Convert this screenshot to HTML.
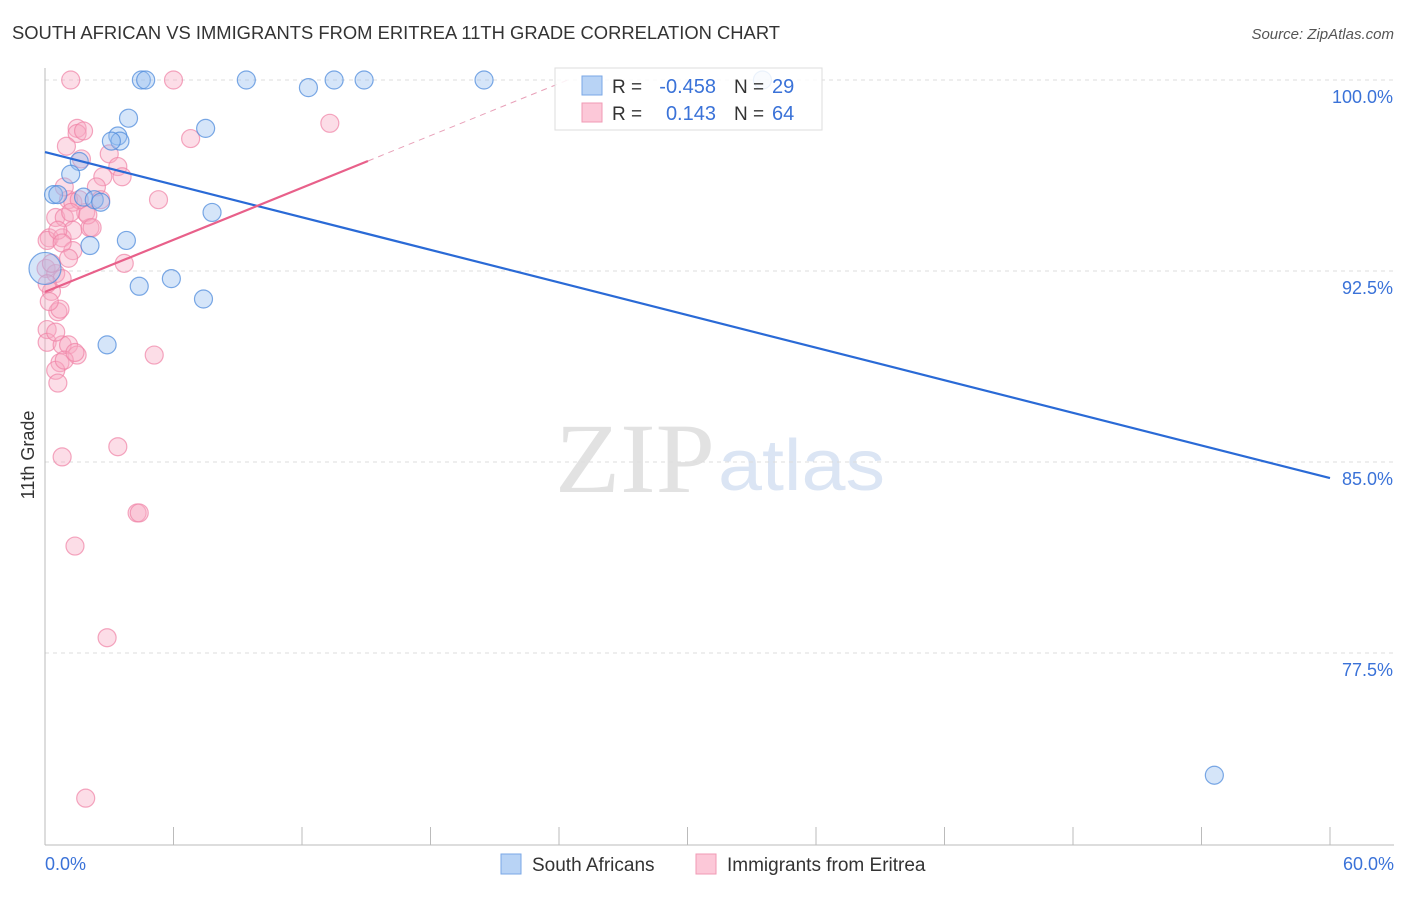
<!DOCTYPE html>
<html><head><meta charset="utf-8"><style>
body{margin:0;background:#fff;font-family:"Liberation Sans",sans-serif;}
</style></head><body>
<svg id="chart" width="1406" height="892" xmlns="http://www.w3.org/2000/svg">
<text x="12" y="39" font-size="18" fill="#333" textLength="768" lengthAdjust="spacingAndGlyphs">SOUTH AFRICAN VS IMMIGRANTS FROM ERITREA 11TH GRADE CORRELATION CHART</text>
<text x="1394" y="39" font-size="15" fill="#555" font-style="italic" text-anchor="end">Source: ZipAtlas.com</text>
<text x="555" y="492" font-size="100" fill="#e2e2e2" textLength="160" lengthAdjust="spacingAndGlyphs" font-family="Liberation Serif,serif">ZIP</text>
<text x="718" y="490" font-size="72" fill="#dbe5f4" textLength="167" lengthAdjust="spacingAndGlyphs">atlas</text>
<text transform="translate(34,455) rotate(-90)" font-size="18" fill="#333" text-anchor="middle">11th Grade</text>
<g id="grid"></g><g id="marks"></g>
<g>
<rect x="555" y="68" width="267" height="62" fill="#fff" fill-opacity="0.85" stroke="#ddd"/>
<rect x="582" y="76" width="20" height="19" fill="#b8d3f5" stroke="#7aa7e6"/>
<rect x="582" y="103" width="20" height="19" fill="#fcc8d8" stroke="#f09ab4"/>
<text x="612" y="93" font-size="19" fill="#333">R =</text>
<text x="716" y="93" font-size="20" fill="#3a72d8" text-anchor="end">-0.458</text>
<text x="734" y="93" font-size="19" fill="#333">N =</text>
<text x="772" y="93" font-size="20" fill="#3a72d8">29</text>
<text x="612" y="120" font-size="19" fill="#333">R =</text>
<text x="716" y="120" font-size="20" fill="#3a72d8" text-anchor="end">0.143</text>
<text x="734" y="120" font-size="19" fill="#333">N =</text>
<text x="772" y="120" font-size="20" fill="#3a72d8">64</text>
</g>
<g>
<rect x="501" y="854" width="20" height="20" fill="#b8d3f5" stroke="#7aa7e6"/>
<text x="532" y="871" font-size="19" fill="#333">South Africans</text>
<rect x="696" y="854" width="20" height="20" fill="#fcc8d8" stroke="#f09ab4"/>
<text x="727" y="871" font-size="19" fill="#333">Immigrants from Eritrea</text>
</g>
</svg>
<script>
const yTicks=[100,92.5,85,77.5];
const yTickLabels=["100.0%","92.5%","85.0%","77.5%"];
const xTickLabels=["0.0%","60.0%"];
const blueX=[4.5,4.7,9.4,12.3,13.5,14.9,20.5,33.5,3.9,3.4,7.5,3.5,3.1,1.6,1.2,0.4,0.6,1.8,2.3,2.6,7.8,3.8,2.1,4.4,5.9,7.4,2.9,0.0,54.6];
const blueY=[100,100,100,99.7,100,100,100,100,98.5,97.8,98.1,97.6,97.6,96.8,96.3,95.5,95.5,95.4,95.3,95.2,94.8,93.7,93.5,91.9,92.2,91.4,89.6,92.6,72.7];
const pinkX=[1.2,6.0,13.3,1.5,1.5,1.8,1.0,6.8,1.7,3.0,3.4,2.7,2.4,3.6,5.3,1.1,1.3,0.5,0.9,1.9,1.6,0.2,0.8,1.3,2.1,1.3,3.7,0.05,0.5,0.3,0.8,0.6,0.1,0.1,0.8,1.1,0.7,0.5,1.5,0.9,5.1,0.6,0.8,3.4,4.3,4.4,1.4,2.9,1.9,0.1,0.3,0.7,1.2,2.6,0.9,2.0,2.2,0.6,0.8,1.1,0.1,0.2,1.4,0.5];
const pinkY=[100,100,98.3,98.1,97.9,98.0,97.4,97.7,96.9,97.1,96.6,96.2,95.8,96.2,95.3,95.3,95.2,94.6,94.6,94.8,95.3,93.8,93.8,93.3,94.2,94.1,92.8,92.6,92.4,91.7,92.2,90.9,90.2,89.7,89.6,89.6,88.9,88.6,89.2,89.0,89.2,88.1,85.2,85.6,83.0,83.0,81.7,78.1,71.8,93.7,92.8,91.0,94.8,95.3,95.8,94.7,94.2,94.1,93.6,93.0,92.0,91.3,89.3,90.1];
const blueTrend=[97.17,84.37];
const pinkTrend=[91.68,96.82];
const pinkTrendX=15.08;
const X=v=>45+v/60*1285, Y=v=>80+(100-v)/7.5*191;
const NS="http://www.w3.org/2000/svg";
function mk(t,a,p){const e=document.createElementNS(NS,t);for(const k in a)e.setAttribute(k,a[k]);p.appendChild(e);return e;}
const g=document.getElementById('grid'),m=document.getElementById('marks');
yTicks.forEach((t,i)=>{
 const l=mk('line',{x1:45,x2:1394,y1:Y(t),y2:Y(t),stroke:'#ddd','stroke-dasharray':'4,4'},g);
 
 
 const tx=mk('text',{x:1393,y:Y(t)+23,'font-size':18,fill:'#3a72d8','text-anchor':'end'},g);tx.textContent=yTickLabels[i];
 
 
});
const ax=mk('line',{x1:45,x2:1394,y1:845,y2:845,stroke:'#bbb'},g);


const ay=mk('line',{x1:45,x2:45,y1:68,y2:845,stroke:'#bbb'},g);


for(let i=0;i<=10;i++){const t=mk('line',{x1:X(i*6),x2:X(i*6),y1:827,y2:845,stroke:'#bbb'},g);
 
 }
[[0,'start',45],[60,'end',1394]].forEach((d,i)=>{const t=mk('text',{x:d[2],y:870,'font-size':18,fill:'#3a72d8','text-anchor':d[1]},g);t.textContent=xTickLabels[i];
 
 });
pinkX.forEach((x,i)=>{const c=mk('circle',{cx:X(x),cy:Y(pinkY[i]),r:9,fill:'rgba(248,170,195,0.4)',stroke:'rgba(240,130,165,0.7)','stroke-width':1.2},m);
 
 });
blueX.forEach((x,i)=>{const c=mk('circle',{cx:X(x),cy:Y(blueY[i]),r:i==27?16:9,fill:'rgba(150,190,240,0.4)',stroke:'rgba(80,140,220,0.75)','stroke-width':1.2},m);
 
 });
const bl=mk('line',{x1:X(0),y1:Y(blueTrend[0]),x2:X(60),y2:Y(blueTrend[1]),stroke:'#2a6ad6','stroke-width':2.2},m);


const sl=(pinkTrend[1]-pinkTrend[0])/pinkTrendX;
const pl=mk('line',{x1:X(0),y1:Y(pinkTrend[0]),x2:X(pinkTrendX),y2:Y(pinkTrend[1]),stroke:'#e8608a','stroke-width':2.2},m);


const xe=(100-pinkTrend[0])/sl;
const pd=mk('line',{x1:X(pinkTrendX),y1:Y(pinkTrend[1]),x2:X(xe),y2:Y(100),stroke:'#e8a0b8','stroke-width':1,'stroke-dasharray':'6,5'},m);


</script>
</body></html>
